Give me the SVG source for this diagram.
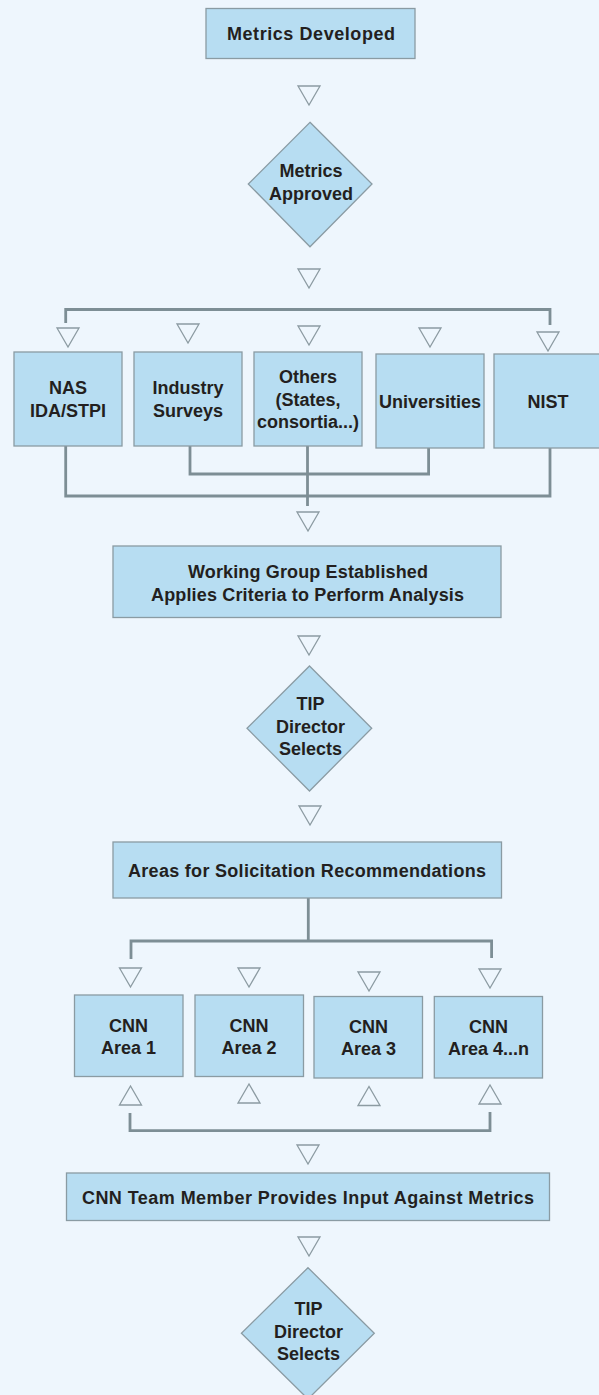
<svg xmlns="http://www.w3.org/2000/svg" xmlns:xlink="http://www.w3.org/1999/xlink" width="599" height="1395" viewBox="0 0 599 1395">
<defs>
<style>
.bg{fill:#EEF6FD}
.box{fill:#B7DDF2;stroke:#8A9BA3;stroke-width:1.3}
.t{font-family:"Liberation Sans",Arial,sans-serif;font-weight:bold;font-size:18px;fill:#231F20;text-anchor:middle}
.ln{fill:none;stroke:#7D8E95;stroke-width:2.8}
.tri{fill:none;stroke:#8C9BA2;stroke-width:1.3;stroke-linejoin:miter}
</style>
<path id="dn" class="tri" d="M-11,0 L11,0 L0,19 Z"/>
<path id="up" class="tri" d="M-11,19 L11,19 L0,0 Z"/>
</defs>
<rect class="bg" x="0" y="0" width="599" height="1395"/>

<g id="connectors">
<path class="ln" d="M65.7,323 V309.5 H550 V325"/>
<path class="ln" d="M65.7,446 V496 H550 V448"/>
<path class="ln" d="M190,446 V474 H428.6 V448"/>
<path class="ln" d="M307.5,446 V506"/>
<path class="ln" d="M308.3,898 V941"/>
<path class="ln" d="M131,959 V941 H491.6 V958"/>
<path class="ln" d="M130,1113 V1130.7 H490 V1112"/>
<use xlink:href="#dn" x="309" y="86"/>
<use xlink:href="#dn" x="309" y="269"/>
<use xlink:href="#dn" x="68" y="328"/>
<use xlink:href="#dn" x="188" y="324"/>
<use xlink:href="#dn" x="309" y="326"/>
<use xlink:href="#dn" x="430" y="328"/>
<use xlink:href="#dn" x="548" y="332"/>
<use xlink:href="#dn" x="308" y="512"/>
<use xlink:href="#dn" x="309" y="636"/>
<use xlink:href="#dn" x="310" y="806"/>
<use xlink:href="#dn" x="130.5" y="968"/>
<use xlink:href="#dn" x="249" y="968"/>
<use xlink:href="#dn" x="369" y="972"/>
<use xlink:href="#dn" x="490" y="969"/>
<use xlink:href="#up" x="130.5" y="1086"/>
<use xlink:href="#up" x="249" y="1084"/>
<use xlink:href="#up" x="369" y="1086.5"/>
<use xlink:href="#up" x="490" y="1085"/>
<use xlink:href="#dn" x="308" y="1145"/>
<use xlink:href="#dn" x="309" y="1237"/>
</g>

<g id="metrics-developed">
<rect class="box" x="206" y="8.5" width="209" height="50"/>
<text class="t" x="311" y="39.5" textLength="168" lengthAdjust="spacing">Metrics Developed</text>
</g>

<g id="metrics-approved">
<polygon class="box" points="310,122.3 372,184 310,246.7 248.3,184"/>
<text class="t" x="311" y="177">Metrics</text>
<text class="t" x="311" y="199.5">Approved</text>
</g>

<g id="nas">
<rect class="box" x="14" y="352" width="108" height="94"/>
<text class="t" x="68" y="393.5">NAS</text>
<text class="t" x="68" y="417">IDA/STPI</text>
</g>

<g id="industry">
<rect class="box" x="134" y="352" width="108" height="94"/>
<text class="t" x="188" y="394">Industry</text>
<text class="t" x="188" y="417">Surveys</text>
</g>

<g id="others">
<rect class="box" x="254" y="352" width="108" height="94"/>
<text class="t" x="308" y="383">Others</text>
<text class="t" x="308" y="406">(States,</text>
<text class="t" x="308" y="428">consortia...)</text>
</g>

<g id="universities">
<rect class="box" x="376" y="354" width="108" height="94"/>
<text class="t" x="430" y="408">Universities</text>
</g>

<g id="nist">
<rect class="box" x="494" y="354" width="108" height="94"/>
<text class="t" x="548" y="408">NIST</text>
</g>

<g id="working-group">
<rect class="box" x="113" y="546" width="388" height="71.5"/>
<text class="t" x="308" y="578" textLength="240" lengthAdjust="spacing">Working Group Established</text>
<text class="t" x="307.5" y="600.5" textLength="313" lengthAdjust="spacing">Applies Criteria to Perform Analysis</text>
</g>

<g id="tip-director-1">
<polygon class="box" points="309.5,666 371.7,728.3 309.5,791 247,728.3"/>
<text class="t" x="310.5" y="709.5">TIP</text>
<text class="t" x="310.5" y="733">Director</text>
<text class="t" x="310.5" y="754.5">Selects</text>
</g>

<g id="areas">
<rect class="box" x="113" y="842" width="388.5" height="56"/>
<text class="t" x="307" y="877" textLength="358" lengthAdjust="spacing">Areas for Solicitation Recommendations</text>
</g>

<g id="cnn-area-1">
<rect class="box" x="74.5" y="995" width="108.5" height="81.5"/>
<text class="t" x="128.5" y="1032.3">CNN</text>
<text class="t" x="128.5" y="1054">Area 1</text>
</g>

<g id="cnn-area-2">
<rect class="box" x="195" y="995" width="108.5" height="81.5"/>
<text class="t" x="249" y="1032.3">CNN</text>
<text class="t" x="249" y="1054">Area 2</text>
</g>

<g id="cnn-area-3">
<rect class="box" x="314" y="996.5" width="108.5" height="81.5"/>
<text class="t" x="368.5" y="1033">CNN</text>
<text class="t" x="368.5" y="1055">Area 3</text>
</g>

<g id="cnn-area-4">
<rect class="box" x="434.3" y="996.5" width="108.2" height="81.5"/>
<text class="t" x="488.5" y="1033">CNN</text>
<text class="t" x="488.5" y="1055">Area 4...n</text>
</g>

<g id="cnn-team">
<rect class="box" x="66.5" y="1173" width="483" height="47.5"/>
<text class="t" x="308" y="1204" textLength="452" lengthAdjust="spacing">CNN Team Member Provides Input Against Metrics</text>
</g>

<g id="tip-director-2">
<polygon class="box" points="308,1267.7 374.3,1333.3 308,1399 241.4,1333.3"/>
<text class="t" x="308.6" y="1314.5">TIP</text>
<text class="t" x="308.6" y="1338">Director</text>
<text class="t" x="308.6" y="1359.5">Selects</text>
</g>
</svg>
